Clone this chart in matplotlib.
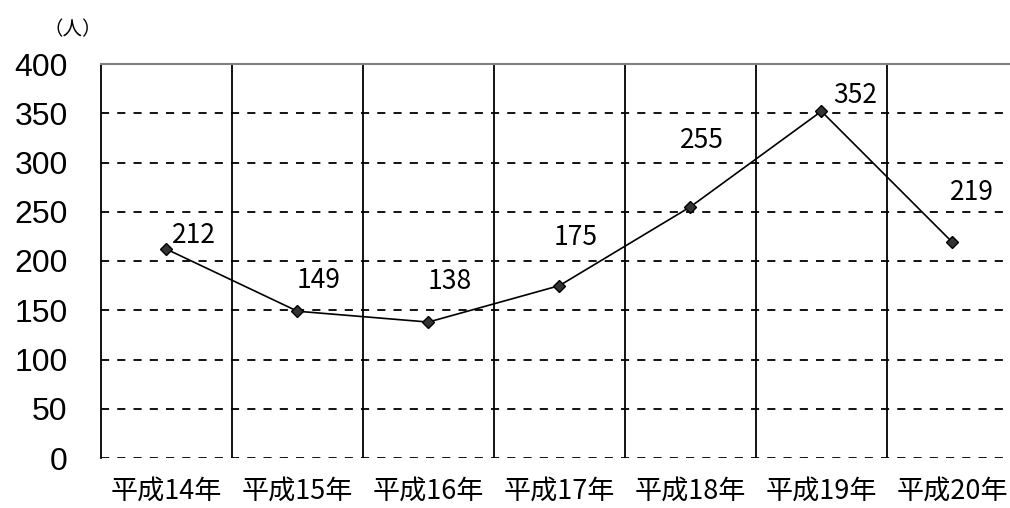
import matplotlib
matplotlib.use("Agg")
import matplotlib.pyplot as plt

plt.rcParams["font.family"] = ["Noto Sans CJK JP", "DejaVu Sans"]

years = ["平成14年", "平成15年", "平成16年", "平成17年", "平成18年", "平成19年", "平成20年"]
counts = [212, 149, 138, 175, 255, 352, 219]
yticks = [0, 50, 100, 150, 200, 250, 300, 350, 400]

# label offsets in points (dx, dy)
label_offsets = [(20, 9.5), (15, 22), (15, 29), (11.5, 35), (8, 47.5), (24, 11.5), (14, 36)]

fig = plt.figure(figsize=(10.1, 5.08), dpi=100)
ax = fig.add_axes([101 / 1010, 1 - 458 / 508, 1 - 101 / 1010, 394 / 508])

x = list(range(len(years)))
ax.plot(x, counts, color="black", lw=1.2, marker="D", markersize=6,
        markerfacecolor="#333333", markeredgecolor="black", zorder=5)

for i, v in enumerate(counts):
    dx, dy = label_offsets[i]
    ax.annotate(str(v), (i, v), xytext=(dx, dy), textcoords="offset points",
                ha="center", va="center", fontsize=19)

ax.set_xlim(-0.5, 6.44)
ax.set_ylim(0, 400)

for yv in yticks:
    ax.axhline(yv, color="black", lw=1.3, ls=(0, (4.5, 4.5)), zorder=1)
for b in range(1, len(years)):
    ax.axvline(b - 0.5, color="black", lw=1.3, zorder=2)

for s in ["right", "bottom"]:
    ax.spines[s].set_visible(False)
ax.spines["top"].set_color("#808080")
ax.spines["top"].set_linewidth(1.5)
ax.spines["left"].set_color("black")
ax.spines["left"].set_linewidth(1.3)

ax.set_yticks(yticks)
ax.set_yticklabels([str(t) for t in yticks], fontsize=23, family=["Liberation Sans"])
ax.set_xticks(x)
ax.set_xticklabels(years, fontsize=19.5)
ax.tick_params(axis="both", length=0)
ax.tick_params(axis="y", pad=24)
ax.tick_params(axis="x", pad=14)

fig.text(73 / 1010, 1 - 30 / 508, "（人）", fontsize=14, ha="center", va="center")

fig.savefig("out.png", dpi=100)
